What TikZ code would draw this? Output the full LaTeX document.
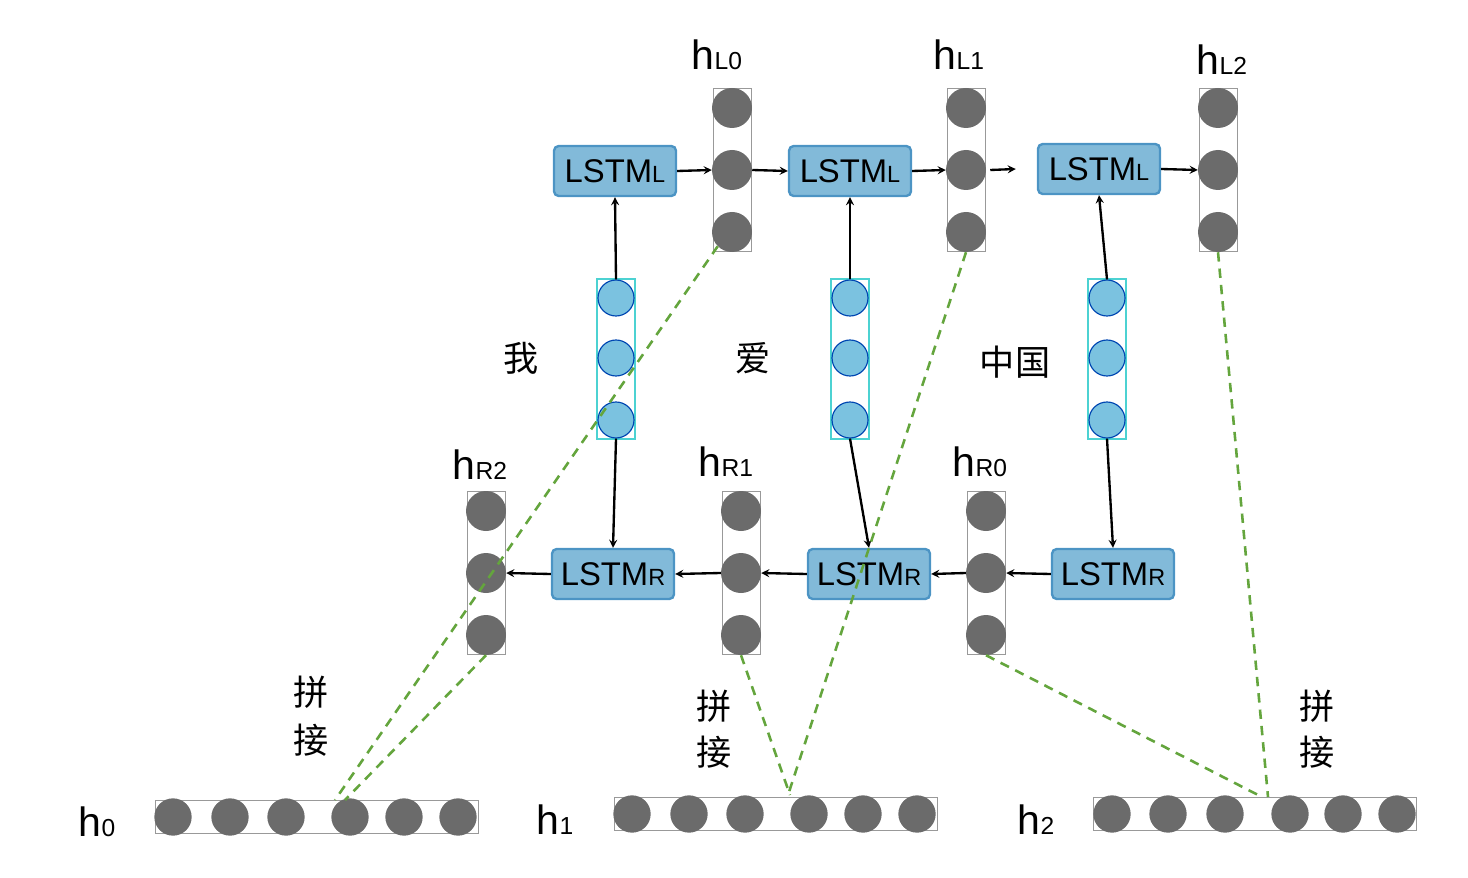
\documentclass[tikz,border=0pt]{standalone}
\usepackage{fontspec}
\setmainfont{Liberation Sans}
\newfontfamily\cjk{Noto Sans CJK SC}
\begin{document}
\begin{tikzpicture}[x=0.03cm,y=-0.03cm,
 lstm/.style={draw=blue!45!black!60!cyan!70,fill=blue!35!cyan!40!white!85!black,line width=2pt,rounded corners=4pt,minimum width=3.66cm,minimum height=1.5cm,font=\fontsize{28}{30}\selectfont},
 gc/.style={circle,fill=black!58,minimum size=1.2cm,inner sep=0},
 bc/.style={circle,fill=blue!30!cyan!45!white!88!black,draw=blue!60!cyan!70!black,line width=1pt,minimum size=1.08cm,inner sep=0},
 gframe/.style={draw=black!40,line width=0.8pt},
 bframe/.style={draw=teal!50!cyan!70,line width=1.2pt},
 lab/.style={font=\fontsize{35}{38}\selectfont},
 cn/.style={font=\cjk\fontsize{30}{34}\selectfont},
 arr/.style={->,>=stealth,line width=2pt},
 dsh/.style={draw=green!45!olive!70!white!80!black,dashed,dash pattern=on 8pt off 6pt,line width=2.2pt}]
\useasboundingbox (0,0) rectangle (1468,878);
\newcommand{\Lsub}[1]{LSTM{\fontsize{20}{22}\selectfont #1}}
\newcommand{\hsub}[1]{h{\fontsize{21}{22}\selectfont #1}}
% LSTM nodes
\node[lstm] (L0) at (615,171) {\Lsub{L}};
\node[lstm] (L1) at (850,171) {\Lsub{L}};
\node[lstm] (L2) at (1099,169) {\Lsub{L}};
\node[lstm] (R0) at (613,574) {\Lsub{R}};
\node[lstm] (R1) at (869,574) {\Lsub{R}};
\node[lstm] (R2) at (1113,574) {\Lsub{R}};
% gray columns
\foreach \n/\x/\y in {hl0/732/170,hl1/966/170,hl2/1218/170,hr2/486/573,hr1/741/573,hr0/986/573}{
 \node[gframe,minimum width=1.14cm,minimum height=4.9cm,inner sep=0] (\n) at (\x,\y) {};
 \node[gc] (\n a) at (\x,\y-62) {};
 \node[gc] (\n b) at (\x,\y) {};
 \node[gc] (\n c) at (\x,\y+62) {};
}
% blue word vectors
\foreach \n/\x in {w0/616,w1/850,w2/1107}{
 \node[bframe,minimum width=1.14cm,minimum height=4.8cm,inner sep=0] (\n) at (\x,359) {};
 \node[bc] (\n a) at (\x,298) {};
 \node[bc] (\n b) at (\x,358) {};
 \node[bc] (\n c) at (\x,420) {};
}
% bottom rows
\foreach \n/\xa/\y/\a/\b/\c/\d/\e/\f in {b0/155/817/173/230/286/350/404/458,b1/614/814/632/689/745/809/863/917,b2/1093/814/1112/1168/1225/1290/1343/1397}{
 \node[gframe,minimum width=9.69cm,minimum height=1.0cm,inner sep=0,anchor=west] (\n) at (\xa,\y) {};
 \foreach \k/\xx in {1/\a,2/\b,3/\c,4/\d,5/\e,6/\f}{\node[gc,minimum size=1.12cm] (\n\k) at (\xx,\y) {};}
}
% labels
\node[lab] (t1) at (717,55) {\hsub{L0}};
\node[lab] (t2) at (959,55) {\hsub{L1}};
\node[lab] (t3) at (1222,60) {\hsub{L2}};
\node[lab] (t4) at (480,465) {\hsub{R2}};
\node[lab] (t5) at (726,462) {\hsub{R1}};
\node[lab] (t6) at (980,462) {\hsub{R0}};
\node[lab] (t7) at (97,822) {\hsub{0}};
\node[lab] (t8) at (555,820) {\hsub{1}};
\node[lab] (t9) at (1036,820) {\hsub{2}};
\node[cn] (c1) at (521,358) {我};
\node[cn] (c2) at (753,358) {爱};
\node[cn] (c3) at (1015,362) {中国};
\node[cn] (p1) at (311,692) {拼};
\node[cn] (p2) at (311,740) {接};
\node[cn] (p3) at (714,706) {拼};
\node[cn] (p4) at (714,752) {接};
\node[cn] (p5) at (1317,706) {拼};
\node[cn] (p6) at (1317,752) {接};
% arrows
\draw[arr] (L0.east) -- (hl0b.west);
\draw[arr] (hl0b.east) -- (L1.west);
\draw[arr] (L1.east) -- (hl1b.west);
\draw[arr] (hl1b.east) ++(4,0) coordinate (q1) (q1) -- ([xshift=-18]L2.west);
\draw[arr] (L2.east) -- (hl2b.west);
\draw[arr] (w0a.north) -- (L0.south);
\draw[arr] (w1a.north) -- (L1.south);
\draw[arr] (w2a.north) -- (L2.south);
\draw[arr] (w0c.south) -- (R0.north);
\draw[arr] (w1c.south) -- (R1.north);
\draw[arr] (w2c.south) -- (R2.north);
\draw[arr] (R2.west) -- (hr0b.east);
\draw[arr] (hr0b.west) -- (R1.east);
\draw[arr] (R1.west) -- (hr1b.east);
\draw[arr] (hr1b.west) -- (R0.east);
\draw[arr] (R0.west) -- (hr2b.east);
% dashed
\coordinate (d1) at (335,800); \coordinate (d2) at (345,800);
\coordinate (d3) at (788,795); \coordinate (d4) at (790,795);
\coordinate (d5) at (1268,797); \coordinate (d6) at (1262,797);
\draw[dsh] (hl0c.south west) -- (d1);
\draw[dsh] (hr2c.south) -- (d2);
\draw[dsh] (hl1c.south) -- (d3);
\draw[dsh] (hr1c.south) -- (d4);
\draw[dsh] (hl2c.south) -- (d5);
\draw[dsh] (hr0c.south) -- (d6);
\end{tikzpicture}
\end{document}
